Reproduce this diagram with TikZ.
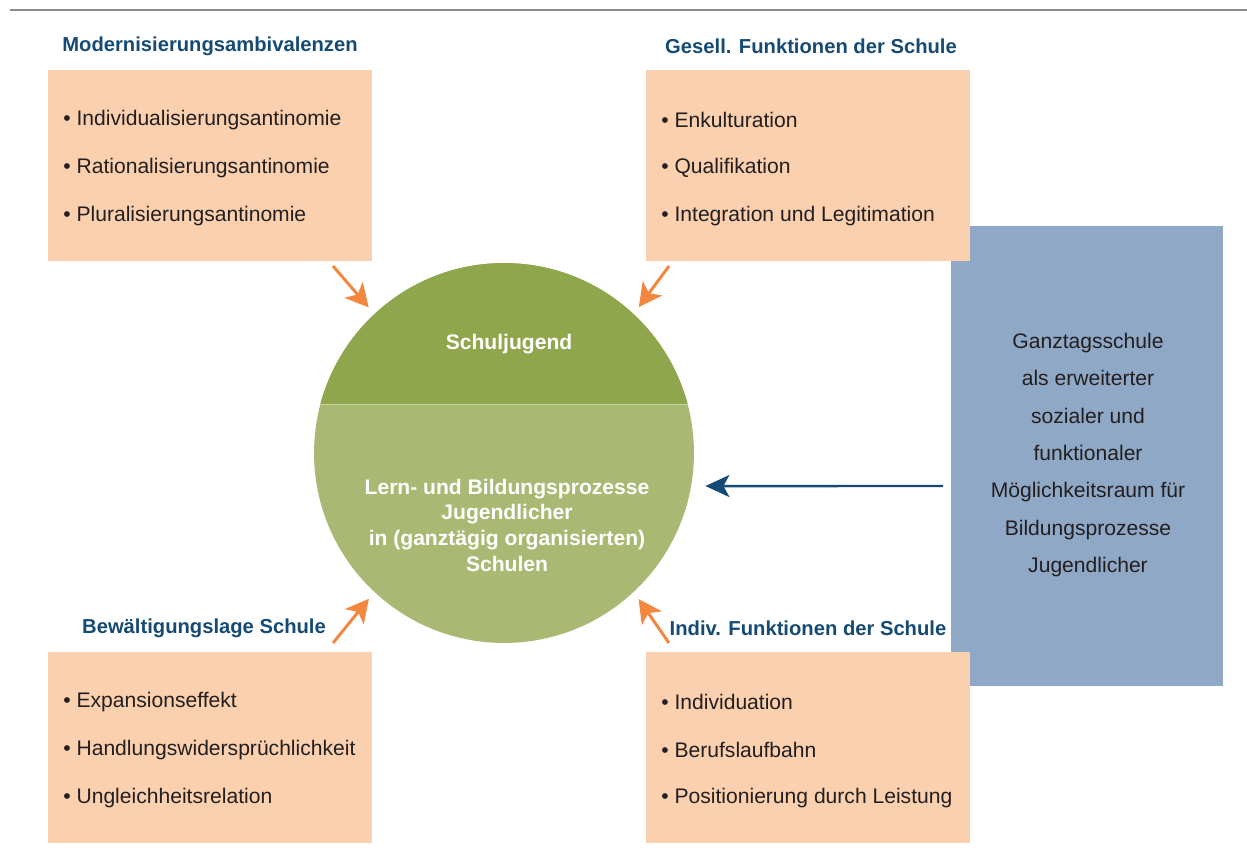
\documentclass[tikz,border=0pt]{standalone}
\usepackage{fontspec}
\setmainfont{Liberation Sans}
\usetikzlibrary{positioning,arrows.meta}

\definecolor{boxorange}{HTML}{FAD0AE}
\definecolor{boxblue}{HTML}{8EA8C6}
\definecolor{darkgreen}{HTML}{8FA64D}
\definecolor{lightgreen}{HTML}{A9B872}
\definecolor{arroworange}{HTML}{F4873F}
\definecolor{titleblue}{HTML}{154A74}
\definecolor{textgray}{HTML}{231F20}

\tikzset{
  obox/.style={fill=boxorange, minimum width=6.48cm, minimum height=3.82cm, inner sep=0},
  bbox/.style={fill=boxblue, minimum width=5.44cm, minimum height=9.2cm, inner sep=0},
  boxtitle/.style={text=titleblue, font=\fontsize{11.5}{14}\selectfont\bfseries, inner sep=0},
  item/.style={anchor=west, text=textgray, font=\fontsize{12}{14}\selectfont, inner sep=0},
  oarrow/.style={arroworange, line width=1.7pt, -{Stealth[length=0.46cm, width=0.48cm, inset=0.12cm]}},
  barrow/.style={titleblue, line width=1.4pt, -{Stealth[length=0.48cm, width=0.44cm, inset=0.12cm]}}
}

\begin{document}
\begin{tikzpicture}[x=0.02cm, y=-0.02cm]
\useasboundingbox (0,0) rectangle (1247,861);
\draw[gray!90, line width=0.6pt] (10,10) -- (1247,10);

% blue box behind the orange ones
\node[bbox] (ganztag) at (1087,456) {};
\node[text=textgray, font=\fontsize{12}{21.3}\selectfont, align=center, inner sep=0] (ganztagtxt) at (1088,455)
  {Ganztagsschule\\als erweiterter\\sozialer und\\funktionaler\\Möglichkeitsraum für\\Bildungsprozesse\\Jugendlicher};

% four boxes
\node[obox] (modbox) at (210,165.5) {};
\node[obox] (gesbox) at (808,165.5) {};
\node[obox] (bewbox) at (210,747.5) {};
\node[obox] (indbox) at (808,747.5) {};

\node[boxtitle] (modtitle) at (210,46) {Modernisierungsambivalenzen};
\node[boxtitle] (gestitle) at (811,46) {Gesell. Funktionen der Schule};
\node[boxtitle] (bewtitle) at (204,628) {Bewältigungslage Schule};
\node[boxtitle] (indtitle) at (808,628) {Indiv. Funktionen der Schule};

\foreach \txt [count=\i] in {Individualisierungsantinomie, Rationalisierungsantinomie, Pluralisierungsantinomie}
  \node[item] (mod\i) at (63,72+48*\i) {• \txt};
\foreach \txt [count=\i] in {Enkulturation, Qualifikation, Integration und Legitimation}
  \node[item] (ges\i) at (661,72+48*\i) {• \txt};
\foreach \txt [count=\i] in {Expansionseffekt, Handlungswidersprüchlichkeit, Ungleichheitsrelation}
  \node[item] (bew\i) at (63,654+48*\i) {• \txt};
\foreach \txt [count=\i] in {Individuation, Berufslaufbahn, Positionierung durch Leistung}
  \node[item] (ind\i) at (661,654+48*\i) {• \txt};

% the circle
\node[circle, minimum size=7.6cm, inner sep=0] (circ) at (504,453) {};
\fill[lightgreen] (circ.center) circle[radius=3.8cm];
\begin{scope}
  \clip (circ.center) circle[radius=3.8cm];
  \fill[darkgreen] (300,250) rectangle (710,404);
  \draw[white, opacity=0.35, line width=0.5pt] (300,404) -- (710,404);
\end{scope}
\node[text=white, font=\fontsize{12}{14}\selectfont\bfseries, inner sep=0] (schuljugend) at (509,344) {Schuljugend};
\node[text=white, font=\fontsize{12}{14.6}\selectfont\bfseries, align=center, inner sep=0] (prozesse) at (507,525)
  {Lern- und Bildungsprozesse\\Jugendlicher\\in (ganztägig organisierten)\\Schulen};

% arrows
\coordinate (modfrom) at (333,266);
\coordinate (gesfrom) at (669,266);
\coordinate (bewfrom) at (333,643);
\coordinate (indfrom) at (669,643);
\coordinate (ganztagfrom) at (943,486);
\draw[oarrow, shorten >=0.17cm] (modfrom) -- (circ.133);
\draw[oarrow, shorten >=0.17cm] (gesfrom) -- (circ.47);
\draw[oarrow, shorten >=0.17cm] (bewfrom) -- (circ.227);
\draw[oarrow, shorten >=0.17cm] (indfrom) -- (circ.313);
\draw[barrow, shorten >=0.28cm] (ganztagfrom) -- (circ.-10);
\end{tikzpicture}
\end{document}
